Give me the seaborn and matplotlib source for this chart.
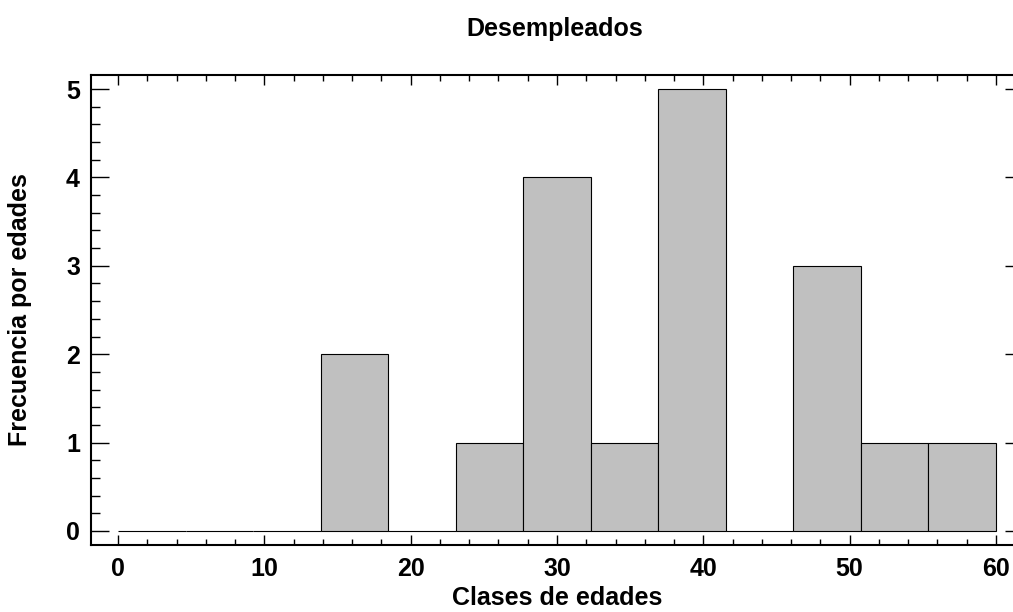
import numpy as np
import pandas as pd
import matplotlib
matplotlib.use("Agg")
import matplotlib.pyplot as plt
import seaborn as sns
from matplotlib.ticker import MultipleLocator

# Data
class_lower = 0
class_upper = 60
n_classes = 13
frequencies = [0, 0, 0, 2, 0, 1, 4, 1, 5, 0, 3, 1, 1]
title = "Desempleados"
xlabel = "Clases de edades"
ylabel = "Frecuencia por edades"

edges = np.linspace(class_lower, class_upper, n_classes + 1)
centers = (edges[:-1] + edges[1:]) / 2
df = pd.DataFrame({"edad": centers, "freq": frequencies})

sns.set_theme(style="white")
plt.rcParams['font.family'] = ['Liberation Sans', 'DejaVu Sans']
plt.rcParams['font.weight'] = 'bold'
for k in ['text.color', 'axes.labelcolor', 'xtick.color', 'ytick.color',
          'xtick.labelcolor', 'ytick.labelcolor', 'axes.edgecolor']:
    plt.rcParams[k] = 'black'

W, H = 1013, 612
L, R, T, B = 91, 1023, 75, 545
fig = plt.figure(figsize=(W / 100, H / 100), dpi=100)
ax = fig.add_axes([L / W, 1 - B / H, (R - L) / W, (B - T) / H])

sns.histplot(data=df, x="edad", weights="freq", bins=n_classes,
             binrange=(class_lower, class_upper), ax=ax,
             color="#c0c0c0", edgecolor="black", linewidth=0.8, alpha=1.0)

ax.set_xlim(-1.85, 61.85)
ax.set_ylim(-0.16, 5.16)

ax.xaxis.set_major_locator(MultipleLocator(10))
ax.xaxis.set_minor_locator(MultipleLocator(2))
ax.yaxis.set_major_locator(MultipleLocator(1))
ax.yaxis.set_minor_locator(MultipleLocator(0.2))

for s in ax.spines.values():
    s.set_linewidth(1.5)
    s.set_color("black")
    s.set_visible(True)

ax.tick_params(which='both', direction='in', top=True, right=True,
               left=True, bottom=True, color='black', width=1.0)
ax.tick_params(axis='x', which='major', length=7, pad=9, labelsize=18)
ax.tick_params(axis='x', which='minor', length=4.3)
ax.tick_params(axis='y', which='major', length=13, pad=8, labelsize=18)
ax.tick_params(axis='y', which='minor', length=6.5)

for lab in ax.get_xticklabels() + ax.get_yticklabels():
    lab.set_fontweight('bold')

ax.set_xlabel(xlabel, fontsize=18, fontweight='bold', va='center')
ax.xaxis.set_label_coords(0.5, (B - 598) / (B - T))
ax.set_ylabel(ylabel, fontsize=18, fontweight='bold', va='center')
ax.yaxis.set_label_coords((20 - L) / (R - L), 0.5)
fig.text(555 / W, 1 - 29 / H, title, ha='center', va='center',
         fontsize=18, fontweight='bold')
ax.grid(False)

fig.savefig("out.png", dpi=100)
